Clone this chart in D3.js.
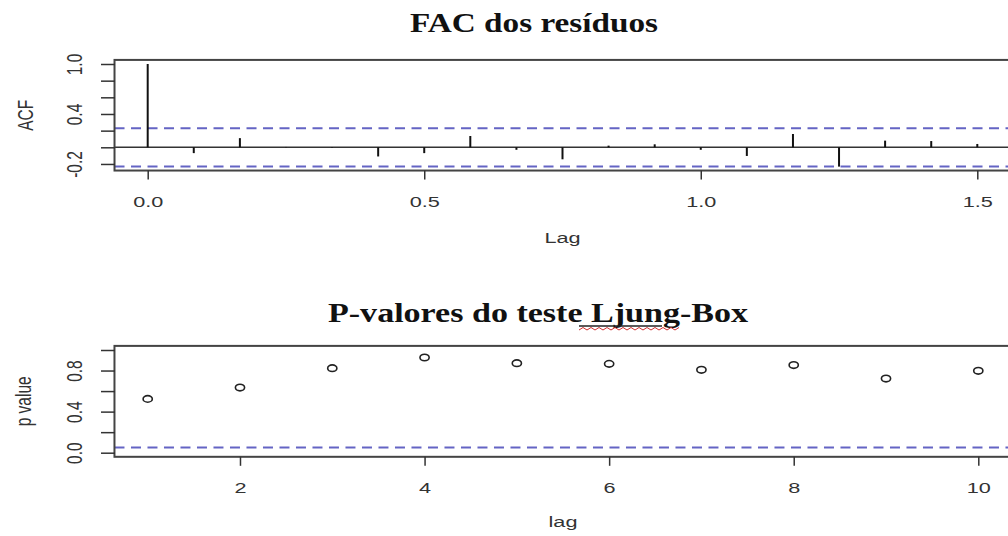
<!DOCTYPE html>
<html>
<head>
<meta charset="utf-8">
<script src="https://cdn.jsdelivr.net/npm/d3@7"></script>
<style>
  body { margin: 0; background: #fff; }
  text { font-family: "Liberation Sans", Arial, sans-serif; }
</style>
</head>
<body>
<svg id="chart" width="1008" height="536"></svg>
<script>
// residual ACF (lag in years, monthly series)
const acfLag = [0, 0.0833, 0.1667, 0.25, 0.3333, 0.4167, 0.5, 0.5833, 0.6667, 0.75,
                0.8333, 0.9167, 1.0, 1.0833, 1.1667, 1.25, 1.3333, 1.4167, 1.5];
const acfValue = [1.0, -0.07, 0.11, 0.004, -0.006, -0.11, -0.07, 0.136, -0.03, -0.144,
                  0.02, 0.036, -0.03, -0.104, 0.16, -0.232, 0.08, 0.075, 0.04];
const acfBound = 0.23;
const acfXTicks = [0, 0.5, 1.0, 1.5];
const acfYTicks = [-0.2, 0, 0.2, 0.4, 0.6, 0.8, 1.0];
const acfYLabels = [-0.2, 0.4, 1.0];

// Ljung-Box p-values
const lbLag = [1, 2, 3, 4, 5, 6, 7, 8, 9, 10];
const lbPValue = [0.524, 0.634, 0.823, 0.927, 0.872, 0.865, 0.807, 0.853, 0.722, 0.797];
const lbLevel = 0.05;
const lbXTicks = [2, 4, 6, 8, 10];
const lbYTicks = [0, 0.2, 0.4, 0.6, 0.8, 1.0];
const lbYLabels = [0, 0.4, 0.8];

const svg = d3.select("#chart");
const ink = "#333";
const blue = "#6464c4";
const SX = 1.4;   // the picture is stretched sideways

function leftAxis(y, ticks, labels) {
  const g = svg.append("g")
      .attr("transform", "translate(115,0)")
      .call(d3.axisLeft(y).tickValues(ticks).tickSize(14)
        .tickFormat(d => labels.includes(d) ? d.toFixed(1) : ""));
  g.select(".domain").remove();
  g.selectAll("line").attr("stroke", ink).attr("stroke-width", 1.5);
  g.selectAll("text")
      .attr("x", 0).attr("y", -23.5).attr("dy", null)
      .attr("text-anchor", "middle")
      .attr("transform", `scale(${SX},1) rotate(-90)`)
      .style("font-size", "15.5px").attr("fill", ink);
}

function bottomAxis(x, ticks, y0, fmt) {
  const g = svg.append("g")
      .attr("transform", `translate(0,${y0})`)
      .call(d3.axisBottom(x).tickValues(ticks).tickSize(9).tickFormat(fmt));
  g.select(".domain").remove();
  g.selectAll("line").attr("stroke", ink).attr("stroke-width", 1.5);
  g.selectAll("text")
      .attr("y", 36).attr("dy", null)
      .attr("transform", `scale(${SX},1)`)
      .style("font-size", "15.5px").attr("fill", ink);
}

function label(txt, x, y, rot) {
  svg.append("text")
      .attr("transform", `translate(${x},${y}) scale(${SX},1)` + (rot ? " rotate(-90)" : ""))
      .attr("text-anchor", "middle")
      .style("font-size", "15.5px").attr("fill", ink)
      .text(txt);
}

function title(txt, cx, y, len) {
  svg.append("text")
      .attr("x", cx - len / 2).attr("y", y)
      .attr("textLength", len).attr("lengthAdjust", "spacingAndGlyphs")
      .style("font-family", '"Liberation Serif", "Times New Roman", serif')
      .style("font-weight", "bold").style("font-size", "28px")
      .attr("fill", "#111")
      .text(txt);
}

// ---------- top panel: ACF ----------
const x1 = d3.scaleLinear().domain([0, 1.5]).range([147.7, 977.3]);
const y1 = d3.scaleLinear().domain([0, 1]).range([147.3, 64]);
const l1 = x1(-0.06), r1 = x1(1.56);

svg.selectAll(".bound").data([acfBound, -acfBound]).enter().append("line")
    .attr("x1", l1).attr("x2", r1)
    .attr("y1", d => y1(d)).attr("y2", d => y1(d))
    .attr("stroke", blue).attr("stroke-width", 2)
    .attr("stroke-dasharray", "10,6.5");

svg.append("line")
    .attr("x1", l1).attr("x2", r1).attr("y1", y1(0)).attr("y2", y1(0))
    .attr("stroke", ink).attr("stroke-width", 1.5);

svg.selectAll(".spike").data(acfLag).enter().append("line")
    .attr("x1", d => x1(d)).attr("x2", d => x1(d))
    .attr("y1", y1(0)).attr("y2", (d, i) => y1(acfValue[i]))
    .attr("stroke", "#111").attr("stroke-width", 2);

svg.append("rect")
    .attr("x", l1).attr("y", y1(1.049))
    .attr("width", r1 - l1).attr("height", y1(-0.279) - y1(1.049))
    .attr("fill", "none").attr("stroke", "#444").attr("stroke-width", 2);

leftAxis(y1, acfYTicks, acfYLabels);
bottomAxis(x1, acfXTicks, y1(-0.279), d => d.toFixed(1));
label("ACF", 33, (y1(1.049) + y1(-0.279)) / 2, true);
label("Lag", (l1 + r1) / 2, 243, false);
title("FAC dos resíduos", 534, 32, 248);

// ---------- bottom panel: Ljung-Box ----------
const x2 = d3.scaleLinear().domain([1, 10]).range([147.7, 978.3]);
const y2 = d3.scaleLinear().domain([0, 1]).range([452.7, 350]);
const l2 = x2(0.64), r2 = x2(10.36);

svg.append("line")
    .attr("x1", l2).attr("x2", r2).attr("y1", y2(lbLevel)).attr("y2", y2(lbLevel))
    .attr("stroke", blue).attr("stroke-width", 2)
    .attr("stroke-dasharray", "10,6.5");

svg.selectAll(".pt").data(lbLag).enter().append("ellipse")
    .attr("cx", d => x2(d)).attr("cy", (d, i) => y2(lbPValue[i]))
    .attr("rx", 4.6).attr("ry", 3.3)
    .attr("fill", "none").attr("stroke", "#222").attr("stroke-width", 1.6);

svg.append("rect")
    .attr("x", l2).attr("y", y2(1.04))
    .attr("width", r2 - l2).attr("height", y2(-0.04) - y2(1.04))
    .attr("fill", "none").attr("stroke", "#444").attr("stroke-width", 2);

leftAxis(y2, lbYTicks, lbYLabels);
bottomAxis(x2, lbXTicks, y2(-0.04), d => String(d));
label("p value", 31, (y2(1.04) + y2(-0.04)) / 2, true);
label("lag", (l2 + r2) / 2, 527, false);
title("P-valores do teste Ljung-Box", 538, 322, 420);

// word-processor marks under "Ljung"
svg.append("line")
    .attr("x1", 579).attr("x2", 662).attr("y1", 326).attr("y2", 326)
    .attr("stroke", "#222").attr("stroke-width", 1.3);
const wave = d3.range(0, 26).map(i => [579 + i * 4, i % 2 ? 327.5 : 330]);
svg.append("path")
    .attr("d", d3.line()(wave))
    .attr("fill", "none").attr("stroke", "#d03030").attr("stroke-width", 1);
</script>
</body>
</html>
